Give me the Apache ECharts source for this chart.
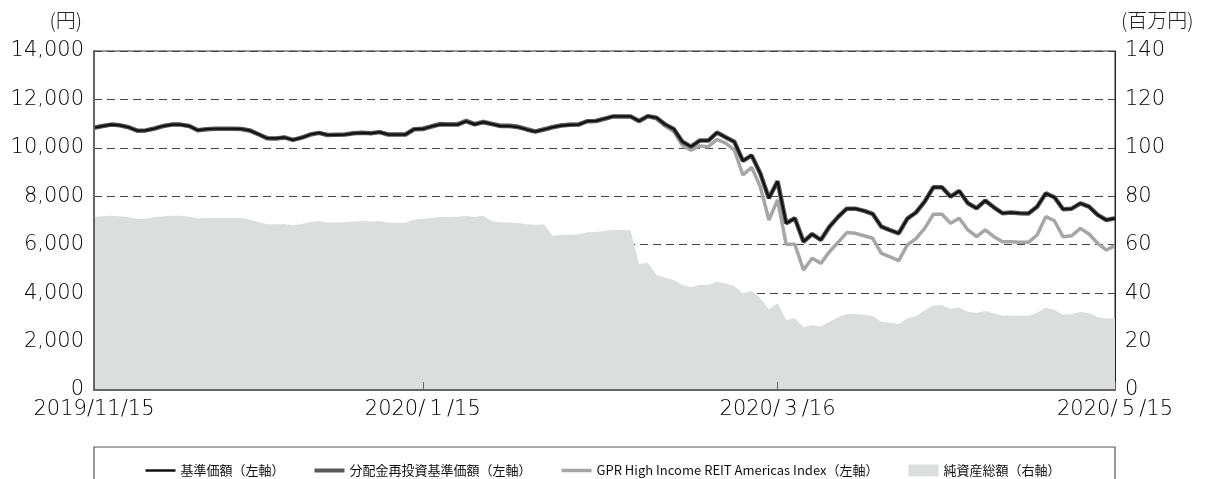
<!DOCTYPE html>
<html><head><meta charset="utf-8">
<script src="https://cdn.jsdelivr.net/npm/echarts@6/dist/echarts.min.js"></script>
<style>html,body{margin:0;padding:0;background:#fff}#c{width:1206px;height:479px}</style>
</head><body><div id="c"></div>
<script>
const dates = [
'2019/11/15','2019/11/18','2019/11/19','2019/11/20','2019/11/21','2019/11/22','2019/11/25','2019/11/26','2019/11/27','2019/11/28','2019/11/29',
'2019/12/02','2019/12/03','2019/12/04','2019/12/05','2019/12/06','2019/12/09','2019/12/10','2019/12/11','2019/12/12','2019/12/13','2019/12/16','2019/12/17','2019/12/18','2019/12/19','2019/12/20','2019/12/23','2019/12/24','2019/12/25','2019/12/26','2019/12/27','2019/12/30',
'2020/01/06','2020/01/07','2020/01/08','2020/01/09','2020/01/10','2020/01/14','2020/01/15','2020/01/16','2020/01/17','2020/01/20','2020/01/21','2020/01/22','2020/01/23','2020/01/24','2020/01/27','2020/01/28','2020/01/29','2020/01/30','2020/01/31',
'2020/02/03','2020/02/04','2020/02/05','2020/02/06','2020/02/07','2020/02/10','2020/02/12','2020/02/13','2020/02/14','2020/02/17','2020/02/18','2020/02/19','2020/02/20','2020/02/21','2020/02/25','2020/02/26','2020/02/27','2020/02/28',
'2020/03/02','2020/03/03','2020/03/04','2020/03/05','2020/03/06','2020/03/09','2020/03/10','2020/03/11','2020/03/12','2020/03/13','2020/03/16','2020/03/17','2020/03/18','2020/03/19','2020/03/23','2020/03/24','2020/03/25','2020/03/26','2020/03/27','2020/03/30','2020/03/31',
'2020/04/01','2020/04/02','2020/04/03','2020/04/06','2020/04/07','2020/04/08','2020/04/09','2020/04/10','2020/04/13','2020/04/14','2020/04/15','2020/04/16','2020/04/17','2020/04/20','2020/04/21','2020/04/22','2020/04/23','2020/04/24','2020/04/27','2020/04/28','2020/04/30',
'2020/05/01','2020/05/07','2020/05/08','2020/05/11','2020/05/12','2020/05/13','2020/05/14','2020/05/15'
];
const tickDates = ['2019/11/15','2020/01/15','2020/03/16','2020/05/15'];
const tickTexts = ['2019/11/15','2020/\u20091\u2009/15','2020/\u20093\u2009/16','2020/\u20095\u2009/15'];

// 基準価額 (円)
const navValues = [
10830,10900,10960,10930,10850,10710,10720,10800,10900,10960,
10960,10900,10730,10770,10790,10790,10790,10780,10720,10560,
10400,10390,10430,10330,10420,10550,10620,10530,10540,10550,
10600,10620,10600,10650,10550,10550,10550,10770,10780,10880,
10970,10960,10960,11100,10970,11060,10980,10900,10900,10860,
10760,10670,10760,10850,10920,10950,10960,11100,11110,11200,
11300,11300,11300,11110,11310,11245,10970,10780,10255,10050,
10300,10300,10630,10440,10255,9460,9690,8950,7920,8620,
6885,7090,6125,6440,6195,6745,7150,7490,7490,7400,
7270,6745,6600,6470,7075,7330,7780,8370,8370,7985,
8220,7710,7505,7820,7545,7300,7330,7300,7290,7570,
8120,7960,7465,7490,7710,7570,7230,7020,7090
];
// 分配金再投資基準価額 (円) — overlaps the NAV line in the picture
const reinvestValues = [
10830,10900,10960,10930,10850,10710,10720,10800,10900,10960,
10960,10900,10730,10770,10790,10790,10790,10780,10720,10560,
10400,10390,10430,10330,10420,10550,10620,10530,10540,10550,
10600,10620,10600,10650,10550,10550,10550,10770,10780,10880,
10970,10960,10960,11100,10970,11060,10980,10900,10900,10860,
10760,10670,10760,10850,10920,10950,10960,11100,11110,11200,
11300,11300,11300,11110,11310,11245,10970,10780,10255,10050,
10300,10300,10630,10440,10255,9460,9690,8950,7920,8620,
6885,7090,6125,6440,6195,6745,7150,7490,7490,7400,
7270,6745,6600,6470,7075,7330,7780,8370,8370,7985,
8220,7710,7505,7820,7545,7300,7330,7300,7290,7570,
8120,7960,7465,7490,7710,7570,7230,7020,7090
];
// GPR High Income REIT Americas Index (円換算)
const gprValues = [
10830,10900,10960,10930,10850,10710,10720,10800,10900,10960,
10960,10900,10730,10770,10790,10790,10790,10780,10720,10560,
10400,10390,10430,10330,10420,10550,10620,10530,10540,10550,
10600,10620,10600,10650,10550,10550,10550,10790,10820,10920,
11010,11000,11000,11140,11010,11100,11020,10940,10940,10900,
10800,10700,10780,10870,10940,10970,10980,11110,11120,11210,
11300,11300,11280,11080,11280,11200,10900,10680,10100,9900,
10080,10050,10350,10200,9910,8880,9200,8400,7020,7850,
6015,6015,4955,5440,5230,5710,6100,6500,6470,6370,
6265,5645,5500,5340,5990,6250,6675,7255,7255,6885,
7090,6610,6330,6610,6330,6125,6125,6100,6100,6400,
7160,6990,6330,6370,6675,6440,6060,5780,5960
];
// 純資産総額 (百万円)
const assetValues = [
71.6,71.8,72,71.8,71.3,70.6,70.7,71.3,71.8,72,
72,71.6,70.8,71,71,71,71,71,70.3,69.4,
68.4,68.4,68.6,68,68.6,69.4,69.8,69.2,69.2,69.3,
69.6,69.8,69.6,69.8,69.2,69.1,69.1,70.4,70.6,71,
71.4,71.4,71.5,72,71.4,72,69.6,69.3,69.2,69,
68.4,68.2,68.3,63.6,64,64.1,64.2,65.1,65.2,65.7,
66.2,66.1,66.1,52,52.6,47.5,46.4,45.4,43.4,42.4,
43.5,43.4,44.7,44,43,40,40.9,37.9,33.3,35.8,
28.9,29.6,25.9,26.8,26.2,28.2,30,31.4,31.4,31.1,
30.6,28.2,27.8,27.3,29.6,30.5,32.8,35,35,33.5,
34.1,32.3,31.9,32.6,31.7,30.7,30.8,30.7,30.7,31.9,
34,33,31.1,31.4,32.3,31.7,30,29.5,29.7
];
const seriesNames = ['基準価額（左軸）','分配金再投資基準価額（左軸）','GPR High Income REIT Americas Index（左軸）','純資産総額（右軸）'];
const leftUnit = '(円)';
const rightUnit = '(百万円)';

const FONT = "'Noto Sans CJK JP', 'Noto Sans', sans-serif";
const NUMFONT = "'DejaVu Sans', 'Noto Sans', sans-serif";
const isTick = (idx, val) => tickDates.indexOf(val) >= 0;

const chart = echarts.init(document.getElementById('c'), null, {renderer: 'canvas'});
chart.setOption({
  animation: false,
  textStyle: {fontFamily: FONT},
  grid: {left: 94, right: 91, top: 51, bottom: 89, show: true, borderColor: '#333', borderWidth: 1, backgroundColor: 'transparent'},
  legend: {
    top: 459, left: 'center',
    itemWidth: 30, itemHeight: 12, itemGap: 30,
    textStyle: {fontSize: 13, color: '#111', fontFamily: FONT},
    data: [
      {name: seriesNames[0], icon: 'path://M0,0L30,0L30,2.5L0,2.5Z'},
      {name: seriesNames[1], icon: 'path://M0,0L30,0L30,4L0,4Z'},
      {name: seriesNames[2], icon: 'path://M0,0L30,0L30,3.5L0,3.5Z'},
      {name: seriesNames[3], icon: 'rect'}
    ]
  },
  xAxis: {
    type: 'category', data: dates, boundaryGap: false, z: 10,
    axisLine: {show: true, lineStyle: {color: '#666', width: 2}},
    axisTick: {show: true, inside: true, length: 8, interval: isTick, lineStyle: {color: '#666', width: 1}},
    axisLabel: {interval: isTick, formatter: v => tickTexts[tickDates.indexOf(v)], fontSize: 21, fontWeight: 200, color: '#000', margin: 9, fontFamily: NUMFONT},
    splitLine: {show: false}
  },
  yAxis: [
    {type: 'value', min: 0, max: 14000, interval: 2000, position: 'left',
     axisLine: {show: false}, axisTick: {show: false},
     axisLabel: {fontSize: 21, fontWeight: 200, color: '#000', margin: 10, fontFamily: NUMFONT},
     splitLine: {show: true, lineStyle: {color: '#444', width: 1, type: [8, 5]}}},
    {type: 'value', min: 0, max: 140, interval: 20, position: 'right', z: 10,
     axisLine: {show: true, lineStyle: {color: '#222', width: 1}}, axisTick: {show: false},
     axisLabel: {fontSize: 21, fontWeight: 200, color: '#000', margin: 10, fontFamily: NUMFONT},
     splitLine: {show: false}},
    {type: 'value', min: 0, max: 14000, interval: 2000, position: 'left', z: 10,
     axisLine: {show: true, onZero: false, lineStyle: {color: '#666', width: 2}}, axisTick: {show: false},
     axisLabel: {show: false}, splitLine: {show: false}}
  ],
  series: [
    {name: seriesNames[3], type: 'line', yAxisIndex: 1, data: assetValues, symbol: 'none', z: 2,
     lineStyle: {width: 0, color: '#dcdddd'}, itemStyle: {color: '#dcdddd'},
     areaStyle: {color: '#dcdddd', opacity: 1}},
    {name: seriesNames[2], type: 'line', yAxisIndex: 0, data: gprValues, symbol: 'none', z: 3,
     lineStyle: {width: 3.5, color: '#a6a6a6'}, itemStyle: {color: '#a6a6a6'}},
    {name: seriesNames[1], type: 'line', yAxisIndex: 0, data: reinvestValues, symbol: 'none', z: 4,
     lineStyle: {width: 4.5, color: '#585858'}, itemStyle: {color: '#585858'}},
    {name: seriesNames[0], type: 'line', yAxisIndex: 0, data: navValues, symbol: 'none', z: 5,
     lineStyle: {width: 2.2, color: '#111'}, itemStyle: {color: '#111'}}
  ],
  graphic: [
    {type: 'text', right: 1206 - 82, top: 10, style: {text: leftUnit, font: "300 20px " + FONT, fill: '#222'}},
    {type: 'text', left: 1121, top: 10, style: {text: rightUnit, font: "300 20px " + FONT, fill: '#222'}},
    {type: 'rect', shape: {x: 94, y: 447, width: 1021, height: 60}, style: {fill: 'none', stroke: '#555', lineWidth: 1.2}, z: -1}
  ]
});
</script></body></html>
